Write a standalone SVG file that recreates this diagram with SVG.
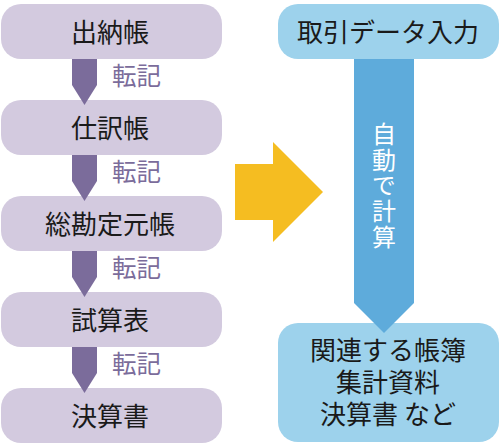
<svg xmlns="http://www.w3.org/2000/svg" width="500" height="446" viewBox="0 0 500 446">
<style>
.lbox{fill:#d3cadf;}
.rbox{fill:#9dd2ec;}
.t{font-family:"Noto Sans CJK JP","Noto Sans CJK SC",sans-serif;font-size:26px;fill:#1a1a1a;text-anchor:middle;}
.c{fill:#7b6c9b;}
.ct{font-family:"Noto Sans CJK JP","Noto Sans CJK SC",sans-serif;font-size:24.5px;fill:#7b6c9b;}
.v{font-family:"Noto Sans CJK JP","Noto Sans CJK SC",sans-serif;font-size:24px;fill:#ffffff;writing-mode:vertical-rl;letter-spacing:1.6px;}
</style>
<rect width="500" height="446" fill="#ffffff"/>
<g id="node-suitouchou"><rect class="lbox" x="1" y="4" width="221" height="55" rx="20"/><text class="t" x="110" y="41.5">出納帳</text></g>
<g id="node-shiwakechou"><rect class="lbox" x="1" y="100" width="221" height="55" rx="20"/><text class="t" x="110" y="137.5">仕訳帳</text></g>
<g id="node-soukanjoumotochou"><rect class="lbox" x="1" y="196" width="221" height="55" rx="20"/><text class="t" x="110" y="233.5">総勘定元帳</text></g>
<g id="node-shisanhyou"><rect class="lbox" x="1" y="292" width="221" height="55" rx="20"/><text class="t" x="110" y="329.5">試算表</text></g>
<g id="node-kessansho"><rect class="lbox" x="1" y="388" width="221" height="55" rx="20"/><text class="t" x="110" y="425.5">決算書</text></g>
<g id="node-input"><rect class="rbox" x="278" y="4" width="221" height="55" rx="20"/><text class="t" x="388" y="41.5">取引データ入力</text></g>
<g id="node-output"><rect class="rbox" x="278" y="323" width="221" height="119" rx="20"/>
<text class="t" x="388" y="359.5"><tspan x="388" y="359.5">関連する帳簿</tspan><tspan x="388" y="391.5">集計資料</tspan><tspan x="388" y="423.5">決算書 など</tspan></text></g>
<g id="connectors">
<polygon class="c" points="72,59 97,59 97,85 84.5,105 72,85"/>
<polygon class="c" points="72,155 97,155 97,181 84.5,201 72,181"/>
<polygon class="c" points="72,251 97,251 97,277 84.5,297 72,277"/>
<polygon class="c" points="72,347 97,347 97,373 84.5,393 72,373"/>
<text class="ct" x="112" y="85">転記</text>
<text class="ct" x="112" y="181">転記</text>
<text class="ct" x="112" y="277">転記</text>
<text class="ct" x="112" y="373">転記</text>
<polygon fill="#5eabdb" points="354,59 414,59 414,303 384,333 354,303"/>
<text class="v" x="384" y="122">自動で計算</text>
<polygon fill="#f5bd21" points="235,164 273,164 273,142 323,192 273,242 273,220 235,220"/>
</g>
</svg>
